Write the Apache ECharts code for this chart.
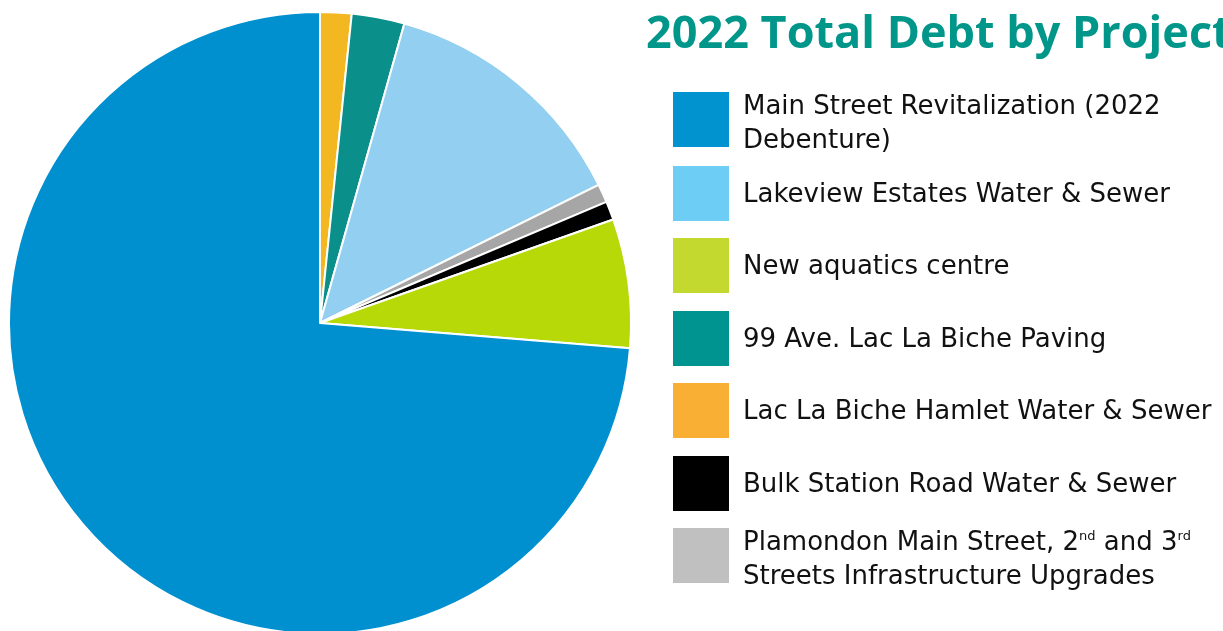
<!DOCTYPE html>
<html><head><meta charset="utf-8">
<script src="https://cdn.jsdelivr.net/npm/echarts@6/dist/echarts.min.js"></script>
<style>html,body{margin:0;padding:0;background:#fff}#c{width:1223px;height:631px}</style>
</head><body><div id="c"></div>
<script>
// Slices in clockwise order from 12 o'clock
const sliceNames = [
  'Lac La Biche Hamlet Water & Sewer',
  '99 Ave. Lac La Biche Paving',
  'Lakeview Estates Water & Sewer',
  'Plamondon Main Street, 2nd and 3rd Streets Infrastructure Upgrades',
  'Bulk Station Road Water & Sewer',
  'New aquatics centre',
  'Main Street Revitalization (2022 Debenture)'
];
const sliceValues = [1.63, 2.74, 13.30, 0.96, 0.97, 6.69, 73.71];
const sliceColors = ['#f3b722', '#0a8f8a', '#92cff0', '#a6a6a6', '#000000', '#b7d907', '#0090cf'];

// Legend order and swatch colours
const legendNames = [
  'Main Street Revitalization (2022 Debenture)',
  'Lakeview Estates Water & Sewer',
  'New aquatics centre',
  '99 Ave. Lac La Biche Paving',
  'Lac La Biche Hamlet Water & Sewer',
  'Bulk Station Road Water & Sewer',
  'Plamondon Main Street, 2nd and 3rd Streets Infrastructure Upgrades'
];
const legendColors = ['#0093d0', '#6dcdf5', '#c4d930', '#009490', '#f9ae34', '#000000', '#c0c0c0'];
const legendLabels = [
  'Main Street Revitalization (2022\nDebenture)',
  'Lakeview Estates Water & Sewer',
  'New aquatics centre',
  '99 Ave. Lac La Biche Paving',
  'Lac La Biche Hamlet Water & Sewer',
  'Bulk Station Road Water & Sewer',
  'Plamondon Main Street, 2{sup|nd} and 3{sup|rd}\nStreets Infrastructure Upgrades'
];
const titleText = '2022 Total Debt by Project';

const chart = echarts.init(document.getElementById('c'), null, {renderer: 'canvas'});
const boxTops = [92, 166, 238, 311, 383, 456, 528];
const legends = legendNames.map((n, i) => {
  const twoLine = legendLabels[i].indexOf('\n') >= 0;
  return {
    orient: 'vertical',
    left: 673,
    top: boxTops[i] - (twoLine ? 11 : 0),
    padding: 0,
    itemWidth: 56,
    itemHeight: 55,
    selectedMode: false,
    icon: 'rect',
    data: [{name: n, itemStyle: {color: legendColors[i], borderWidth: 0}}],
    formatter: () => legendLabels[i],
    textStyle: {
      fontFamily: 'DejaVu Sans',
      fontSize: 26,
      color: '#111111',
      lineHeight: 34,
      padding: [twoLine ? 9 : 3, 0, 0, 9],
      rich: {
        sup: {fontFamily: 'DejaVu Sans', fontSize: 13, color: '#111111', padding: [0, 0, 13, 0]}
      }
    }
  };
});

chart.setOption({
  animation: false,
  title: {
    text: titleText,
    left: 646,
    top: 13,
    padding: 0,
    textStyle: {fontFamily: 'Open Sans', fontWeight: 'bold', fontSize: 45, color: '#00968a'}
  },
  legend: legends,
  series: [{
    type: 'pie',
    center: [320, 323],
    radius: [0, 311],
    startAngle: 90,
    clockwise: true,
    label: {show: false},
    labelLine: {show: false},
    emphasis: {disabled: true},
    itemStyle: {borderColor: '#ffffff', borderWidth: 2},
    data: sliceNames.map((n, i) => ({name: n, value: sliceValues[i], itemStyle: {color: sliceColors[i]}}))
  }]
});
</script></body></html>
